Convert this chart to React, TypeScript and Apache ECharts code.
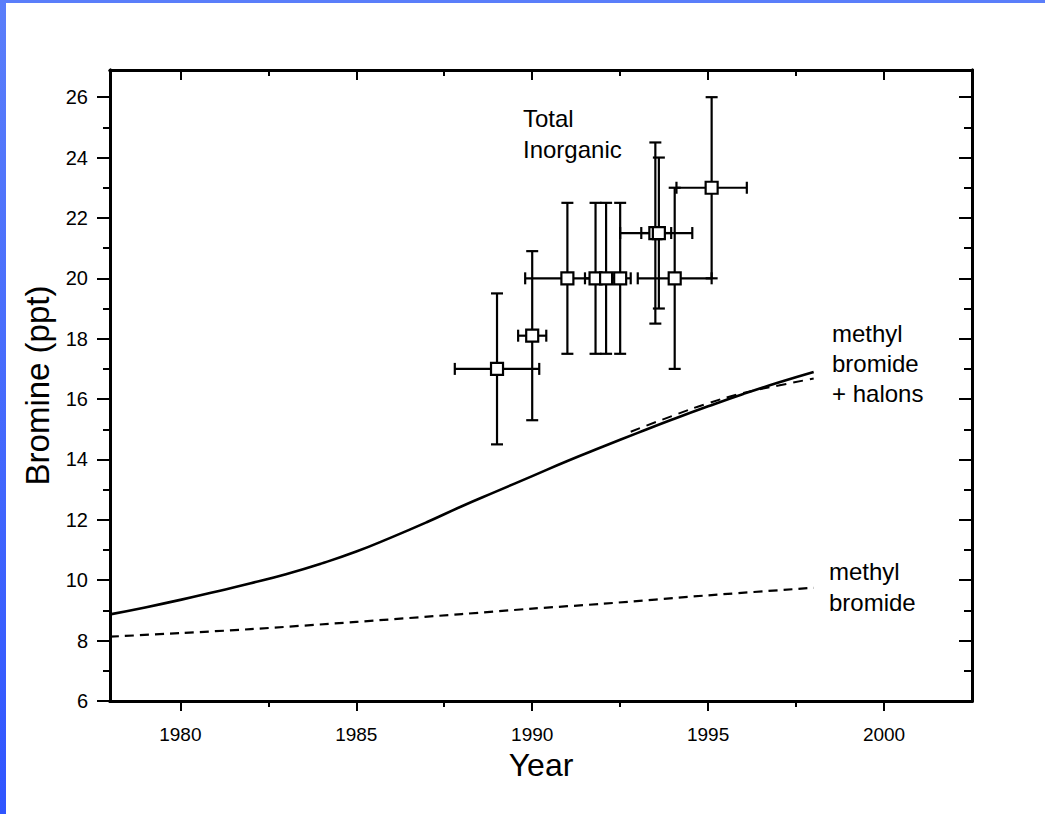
import React, { useEffect, useRef } from "react";
import * as echarts from "echarts";

// ---- data ----
const curveYears = [1978, 1979, 1980, 1981, 1982, 1983, 1984, 1985, 1986, 1987, 1988, 1989, 1990, 1991, 1992, 1993, 1994, 1995, 1996, 1997, 1998];
const mbPlusHalons = [8.87, 9.1, 9.35, 9.62, 9.9, 10.2, 10.55, 10.95, 11.42, 11.92, 12.45, 12.95, 13.45, 13.95, 14.42, 14.88, 15.33, 15.76, 16.17, 16.55, 16.9];

const altYears = [1992.8, 1994, 1995, 1996, 1997, 1998];
const altValues = [14.92, 15.45, 15.86, 16.2, 16.45, 16.68];

const mbYears = [1978, 1980, 1982, 1985, 1988, 1990, 1992, 1995, 1998];
const methylBromide = [8.13, 8.25, 8.38, 8.62, 8.88, 9.06, 9.22, 9.5, 9.75];

const obsYears = [1989.0, 1990.0, 1991.0, 1991.8, 1992.1, 1992.5, 1993.5, 1993.6, 1994.05, 1995.1];
const obsValues = [17, 18.1, 20, 20, 20, 20, 21.5, 21.5, 20, 23];
const obsXLow = [1987.8, 1989.6, 1989.8, 1991.5, 1991.8, 1992.2, 1992.5, 1993.1, 1993.0, 1994.1];
const obsXHigh = [1990.2, 1990.4, 1992.2, 1992.1, 1992.4, 1992.8, 1994.55, 1993.95, 1995.1, 1996.1];
const obsYLow = [14.5, 15.3, 17.5, 17.5, 17.5, 17.5, 18.5, 19, 17, 20];
const obsYHigh = [19.5, 20.9, 22.5, 22.5, 22.5, 22.5, 24.5, 24, 23, 26];

const xMajorTicks = [1980, 1985, 1990, 1995, 2000];
const xMinorTicks = [1982.5, 1987.5, 1992.5, 1997.5];
const yMajorTicks = [6, 8, 10, 12, 14, 16, 18, 20, 22, 24, 26];
const yMinorTicks = [7, 9, 11, 13, 15, 17, 19, 21, 23, 25];

const X_MIN = 1978;
const X_MAX = 2002.5;
const Y_MIN = 6;
const Y_MAX = 26.9;

const FONT = '"Liberation Sans", Arial, sans-serif';

export default function App() {
  const ref = useRef<HTMLDivElement>(null);

  useEffect(() => {
    if (!ref.current) return;
    const chart = echarts.init(ref.current, undefined, { renderer: "svg" });

    const line = (w: number) => ({ show: true, lineStyle: { color: "#000", width: w } });

    const mkX = (pos: "top" | "bottom", ticks: number[], len: number, inside: boolean, labels: boolean, extra: any = {}) => ({
      type: "value",
      position: pos,
      min: X_MIN,
      max: X_MAX,
      axisLine: line(3),
      axisTick: { show: true, customValues: ticks, length: len, inside, lineStyle: { color: "#000", width: 2 } },
      axisLabel: labels
        ? {
            show: true,
            customValues: ticks,
            color: "#000",
            fontSize: 19,
            fontFamily: FONT,
            margin: 24,
            formatter: (v: number) => String(v),
          }
        : { show: false },
      splitLine: { show: false },
      ...extra,
    });

    const mkY = (pos: "left" | "right", ticks: number[], len: number, inside: boolean, labels: boolean, extra: any = {}) => ({
      type: "value",
      position: pos,
      min: Y_MIN,
      max: Y_MAX,
      axisLine: line(3),
      axisTick: { show: true, customValues: ticks, length: len, inside, lineStyle: { color: "#000", width: 2 } },
      axisLabel: labels
        ? { show: true, customValues: ticks, color: "#000", fontSize: 20, fontFamily: FONT, margin: 22 }
        : { show: false },
      splitLine: { show: false },
      ...extra,
    });

    const obsData = obsYears.map((x, i) => [x, obsValues[i], obsXLow[i], obsXHigh[i], obsYLow[i], obsYHigh[i]]);

    const CAP = 6;
    const renderErr = (params: any, api: any) => {
      const x = api.value(0), y = api.value(1);
      const xl = api.value(2), xh = api.value(3), yl = api.value(4), yh = api.value(5);
      const c = api.coord([x, y]);
      const pxl = api.coord([xl, y]);
      const pxh = api.coord([xh, y]);
      const pyl = api.coord([x, yl]);
      const pyh = api.coord([x, yh]);
      const st = { stroke: "#000", lineWidth: 2.2, fill: "none" };
      const seg = (x1: number, y1: number, x2: number, y2: number) => ({ type: "line", shape: { x1, y1, x2, y2 }, style: st });
      return {
        type: "group",
        children: [
          seg(c[0], pyl[1], c[0], pyh[1]),
          seg(c[0] - CAP, pyl[1], c[0] + CAP, pyl[1]),
          seg(c[0] - CAP, pyh[1], c[0] + CAP, pyh[1]),
          seg(pxl[0], c[1], pxh[0], c[1]),
          seg(pxl[0], c[1] - CAP, pxl[0], c[1] + CAP),
          seg(pxh[0], c[1] - CAP, pxh[0], c[1] + CAP),
        ],
      };
    };

    const option: any = {
      animation: false,
      backgroundColor: "#fff",
      grid: { left: 110, right: 73, top: 70, bottom: 113, containLabel: false },
      xAxis: [
        mkX("bottom", xMajorTicks, 10, false, true, {
          name: "Year",
          nameLocation: "middle",
          nameGap: 48,
          nameTextStyle: { color: "#000", fontSize: 32, fontFamily: FONT },
        }),
        mkX("bottom", xMinorTicks, 6, false, false),
        mkX("top", xMajorTicks, 10, true, false),
        mkX("top", xMinorTicks, 6, true, false),
      ],
      yAxis: [
        mkY("left", yMajorTicks, 13, false, true, {
          name: "Bromine (ppt)",
          nameLocation: "middle",
          nameGap: 56,
          nameTextStyle: { color: "#000", fontSize: 33, fontFamily: FONT },
        }),
        mkY("left", yMinorTicks, 7, false, false),
        mkY("right", yMajorTicks, 13, true, false),
        mkY("right", yMinorTicks, 8, true, false),
      ],
      series: [
        {
          name: "methyl bromide + halons",
          type: "line",
          xAxisIndex: 0,
          yAxisIndex: 0,
          data: curveYears.map((x, i) => [x, mbPlusHalons[i]]),
          showSymbol: false,
          smooth: 0.5,
          lineStyle: { color: "#000", width: 2.6 },
          z: 3,
        },
        {
          name: "methyl bromide + halons (alt)",
          type: "line",
          xAxisIndex: 0,
          yAxisIndex: 0,
          data: altYears.map((x, i) => [x, altValues[i]]),
          showSymbol: false,
          smooth: 0.5,
          lineStyle: { color: "#000", width: 2, type: [10, 7] },
          z: 3,
        },
        {
          name: "methyl bromide",
          type: "line",
          xAxisIndex: 0,
          yAxisIndex: 0,
          data: mbYears.map((x, i) => [x, methylBromide[i]]),
          showSymbol: false,
          smooth: 0.3,
          lineStyle: { color: "#000", width: 2.2, type: [9, 6] },
          z: 3,
        },
        {
          name: "error bars",
          type: "custom",
          xAxisIndex: 0,
          yAxisIndex: 0,
          data: obsData,
          encode: { x: [0, 2, 3], y: [1, 4, 5] },
          renderItem: renderErr,
          z: 4,
        },
        {
          name: "Total Inorganic",
          type: "scatter",
          xAxisIndex: 0,
          yAxisIndex: 0,
          data: obsYears.map((x, i) => [x, obsValues[i]]),
          symbol: "rect",
          symbolSize: 12,
          itemStyle: { color: "#fff", borderColor: "#000", borderWidth: 2.2, opacity: 1 },
          z: 5,
        },
      ],
      graphic: [
        {
          type: "rect",
          left: 0,
          top: 0,
          shape: { x: 0, y: 0, width: 6, height: 814 },
          style: {
            fill: new echarts.graphic.LinearGradient(0, 0, 0, 1, [
              { offset: 0, color: "#5a7efa" },
              { offset: 1, color: "#2f55ff" },
            ]),
          },
          z: 100,
        },
        {
          type: "rect",
          left: 0,
          top: 0,
          shape: { x: 0, y: 0, width: 1045, height: 3 },
          style: { fill: "#5a7efa" },
          z: 100,
        },
        {
          type: "text",
          x: 523,
          y: 103,
          style: { text: "Total\nInorganic", font: `24px ${FONT}`, fill: "#000", lineHeight: 31 },
          z: 50,
        },
        {
          type: "text",
          x: 832,
          y: 318,
          style: { text: "methyl\nbromide\n+ halons", font: `24px ${FONT}`, fill: "#000", lineHeight: 30 },
          z: 50,
        },
        {
          type: "text",
          x: 829,
          y: 556,
          style: { text: "methyl\nbromide", font: `24px ${FONT}`, fill: "#000", lineHeight: 31 },
          z: 50,
        },
      ],
    };

    chart.setOption(option);
    return () => chart.dispose();
  }, []);

  return (
    <div
      ref={ref}
      style={{ position: "fixed", left: 0, top: 0, width: 1045, height: 814, background: "#fff" }}
    />
  );
}
